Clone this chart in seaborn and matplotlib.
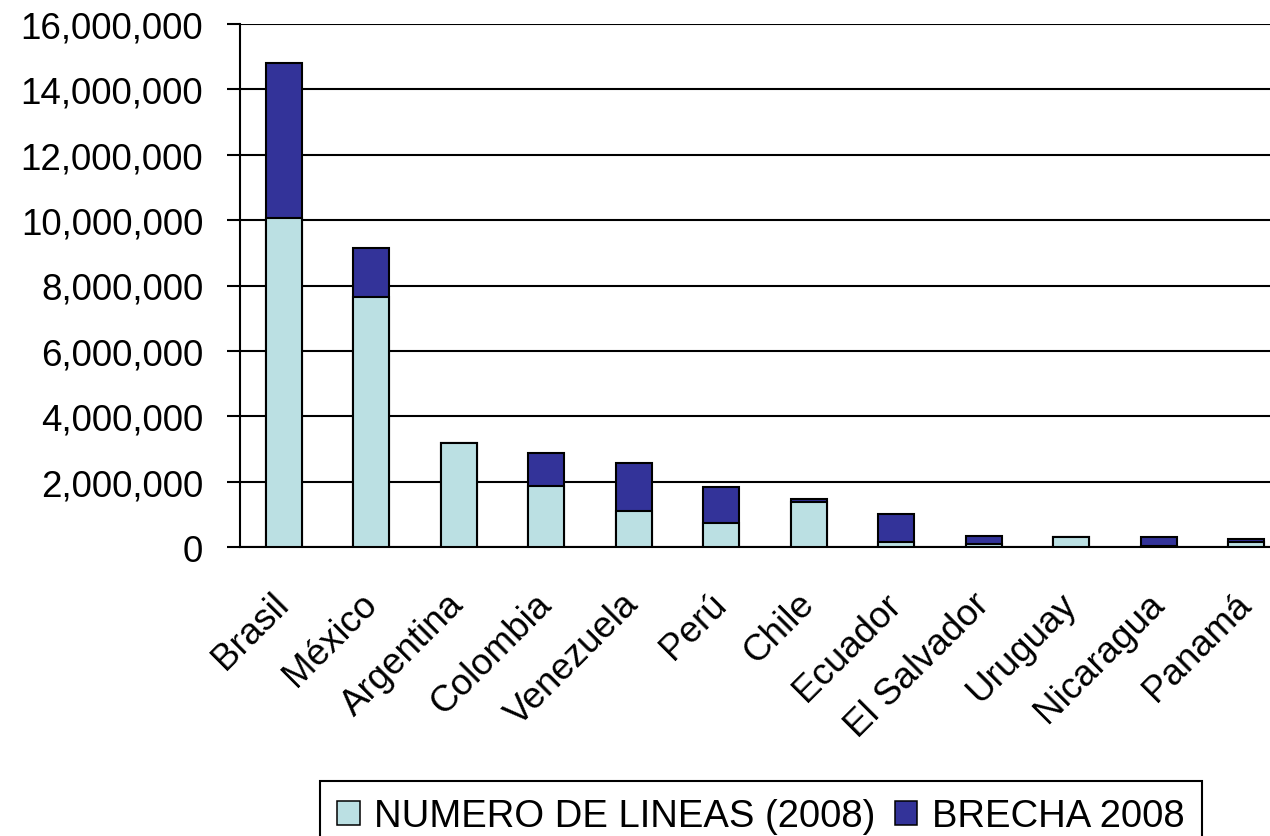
import numpy as np
import pandas as pd
import matplotlib
matplotlib.use('Agg')
import matplotlib.pyplot as plt
import matplotlib.ticker as mticker
import matplotlib.transforms as mtransforms
from matplotlib.patches import Patch
import seaborn as sns

# Data
paises = ['Brasil', 'México', 'Argentina', 'Colombia', 'Venezuela', 'Perú',
          'Chile', 'Ecuador', 'El Salvador', 'Uruguay', 'Nicaragua', 'Panamá']
lineas_2008 = [10070000, 7640000, 3180000, 1880000, 1090000, 720000,
               1390000, 150000, 90000, 300000, 40000, 160000]
brecha_2008 = [4730000, 1520000, 0, 990000, 1470000, 1110000,
               70000, 870000, 260000, 0, 260000, 70000]

df = pd.DataFrame({'pais': paises, 'lineas': lineas_2008, 'brecha': brecha_2008})
df['total'] = df['lineas'] + df['brecha']

sns.set_style('white')
plt.rcParams['font.family'] = ['Liberation Sans', 'DejaVu Sans']
plt.rcParams['text.color'] = 'black'
plt.rcParams['xtick.labelcolor'] = 'black'
plt.rcParams['ytick.labelcolor'] = 'black'

light = '#BBE0E3'
dark = '#333399'

fig = plt.figure(figsize=(12.7, 8.37), dpi=100)
# plot area runs a little past the right edge of the image, as in the original
ax = fig.add_axes([240/1270, 1 - 548/837, 1050/1270, (548 - 25)/837])

# stacked bars: total in dark, lines drawn over it in light
sns.barplot(data=df, x='pais', y='total', color=dark, width=0.41,
            edgecolor='black', linewidth=1.5, saturation=1, ax=ax, zorder=3)
sns.barplot(data=df, x='pais', y='lineas', color=light, width=0.41,
            edgecolor='black', linewidth=1.5, saturation=1, ax=ax, zorder=4)

ax.set_ylim(0, 16000000)
ax.set_xlim(-0.5, len(paises) - 0.5)
ax.yaxis.set_major_locator(mticker.MultipleLocator(2000000))
ax.yaxis.set_major_formatter(mticker.StrMethodFormatter('{x:,.0f}'))
ax.yaxis.grid(True, color='black', linewidth=1.5)
ax.set_axisbelow(True)

ax.set_xticks(np.arange(len(paises)))
ax.set_xticklabels(paises, rotation=45, ha='right', va='center',
                   rotation_mode='anchor')
shift = mtransforms.ScaledTranslation(-17/100, 0, fig.dpi_scale_trans)
for lbl in ax.get_xticklabels():
    lbl.set_transform(lbl.get_transform() + shift)
ax.set_xticks(np.arange(-0.5, len(paises)), minor=True)
ax.tick_params(axis='x', which='major', length=0, pad=37, labelsize=26.5)
ax.tick_params(axis='x', which='minor', length=9, width=1.5, color='black', direction='out')
ax.tick_params(axis='y', length=9.5, width=1.5, color='black', direction='out',
               labelsize=26.5, pad=17, left=True)

ax.set_xlabel('')
ax.set_ylabel('')
for s in ['top', 'right']:
    ax.spines[s].set_visible(False)
for s in ['left', 'bottom']:
    ax.spines[s].set_color('black')
    ax.spines[s].set_linewidth(1.5)

handles = [Patch(facecolor=light, edgecolor='black', linewidth=1.1),
           Patch(facecolor=dark, edgecolor='black', linewidth=1.1)]
leg = fig.legend(handles, ['NUMERO DE LINEAS (2008)', 'BRECHA 2008'],
                 loc='upper center', bbox_to_anchor=(761/1270, 1 - 782/837), ncol=2,
                 fontsize=27.5, frameon=True, fancybox=False, framealpha=1,
                 edgecolor='black', handlelength=0.58, handleheight=0.58,
                 handletextpad=0.39, columnspacing=0.5, borderpad=0.45,
                 borderaxespad=0)
leg.get_frame().set_linewidth(1.5)

fig.savefig('out.png', dpi=100)
